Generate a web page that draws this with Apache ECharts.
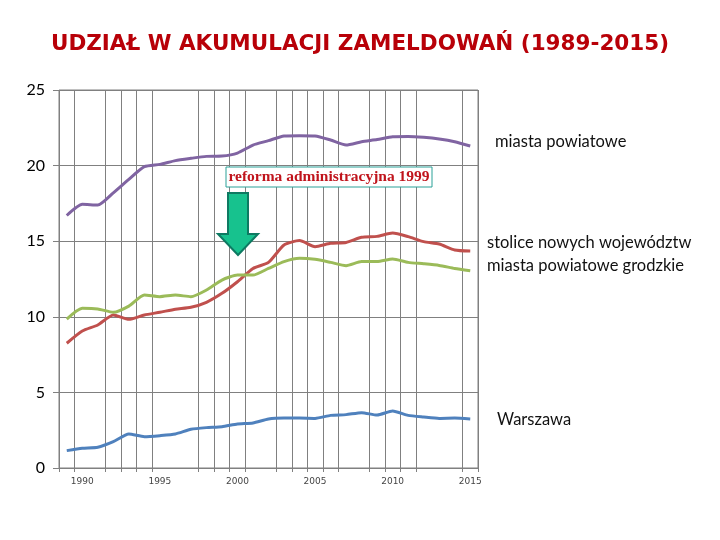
<!DOCTYPE html>
<html>
<head>
<meta charset="utf-8">
<script src="https://cdn.jsdelivr.net/npm/echarts@6/dist/echarts.min.js"></script>
<style>
  html, body { margin: 0; padding: 0; background: #fff; }
  #chart { width: 720px; height: 540px; }
</style>
</head>
<body>
<div id="chart"></div>
<script>
  // lata 1989-2015
  var years = [];
  for (var y = 1989; y <= 2015; y++) years.push(String(y));

  var miastaPowiatowe = [16.7, 17.44, 17.39, 18.2, 19.09, 19.93, 20.08, 20.33, 20.48, 20.61, 20.63, 20.83, 21.36, 21.65,
    21.96, 21.98, 21.96, 21.69, 21.36, 21.58, 21.72, 21.91, 21.93, 21.87, 21.76, 21.58, 21.3];
  var stoliceWojewodztw = [8.25, 9.06, 9.46, 10.12, 9.83, 10.12, 10.3, 10.5, 10.63, 10.96, 11.55, 12.32, 13.2, 13.6,
    14.75, 15.04, 14.64, 14.86, 14.92, 15.26, 15.32, 15.54, 15.3, 14.97, 14.81, 14.42, 14.35];
  var miastaGrodzkie = [9.85, 10.56, 10.52, 10.3, 10.71, 11.44, 11.33, 11.44, 11.33, 11.77, 12.43, 12.76, 12.76, 13.2,
    13.65, 13.87, 13.8, 13.6, 13.38, 13.65, 13.65, 13.82, 13.6, 13.51, 13.4, 13.2, 13.05];
  var warszawa = [1.15, 1.3, 1.37, 1.74, 2.25, 2.07, 2.14, 2.25, 2.56, 2.67, 2.73, 2.91, 2.98, 3.24,
    3.3, 3.3, 3.28, 3.48, 3.53, 3.66, 3.5, 3.77, 3.48, 3.37, 3.28, 3.3, 3.24];

  var seriesNames = ['miasta powiatowe', 'stolice nowych województw', 'miasta powiatowe grodzkie', 'Warszawa'];
  var seriesColors = ['#8064A2', '#C0504D', '#9BBB59', '#4F81BD'];
  // pionowe linie siatki, których brak na oryginale
  var missingGrid = [2, 7, 8, 13, 19, 24, 25];

  var chart = echarts.init(document.getElementById('chart'));

  function line(name, data, color) {
    return {
      name: name,
      type: 'line',
      data: data,
      symbol: 'none',
      smooth: 0.2,
      lineStyle: { color: color, width: 3 },
      itemStyle: { color: color },
      animation: false
    };
  }

  var option = {
    backgroundColor: '#fff',
    title: {
      text: 'UDZIAŁ W AKUMULACJI ZAMELDOWAŃ (1989-2015)',
      left: 'center',
      top: 28,
      textStyle: {
        color: '#B80008',
        fontFamily: 'DejaVu Sans',
        fontWeight: 'bold',
        fontSize: 21.5
      }
    },
    grid: {
      left: 59,
      top: 90,
      width: 419,
      height: 378,
      show: true,
      borderColor: '#808080',
      borderWidth: 1
    },
    xAxis: {
      type: 'category',
      data: years,
      boundaryGap: true,
      axisLine: { show: false },
      axisTick: {
        show: true,
        length: 4,
        lineStyle: { color: '#808080' },
        interval: function (idx) { return missingGrid.indexOf(idx) < 0; }
      },
      axisLabel: {
        interval: function (idx, val) { return Number(val) % 5 === 0; },
        fontSize: 9,
        color: '#444',
        fontFamily: 'DejaVu Sans',
        margin: 9
      },
      splitLine: {
        show: true,
        interval: function (idx) { return missingGrid.indexOf(idx) < 0; },
        lineStyle: { color: '#808080', width: 1 }
      }
    },
    yAxis: {
      type: 'value',
      min: 0,
      max: 25,
      interval: 5,
      axisLine: { show: false },
      axisTick: { show: true, length: 6, lineStyle: { color: '#808080' } },
      axisLabel: {
        fontSize: 16,
        color: '#000',
        fontFamily: 'Lato',
        margin: 14
      },
      splitLine: { lineStyle: { color: '#808080', width: 1 } }
    },
    series: [
      line(seriesNames[0], miastaPowiatowe, seriesColors[0]),
      line(seriesNames[1], stoliceWojewodztw, seriesColors[1]),
      line(seriesNames[2], miastaGrodzkie, seriesColors[2]),
      line(seriesNames[3], warszawa, seriesColors[3])
    ],
    graphic: [
      // podpisy serii po prawej
      { type: 'text', left: 495, top: 133, style: { text: seriesNames[0], font: '16.5px Lato', fill: '#111' } },
      { type: 'text', left: 487, top: 234, style: { text: seriesNames[1], font: '16.5px Lato', fill: '#111' } },
      { type: 'text', left: 487, top: 257, style: { text: seriesNames[2], font: '16.5px Lato', fill: '#111' } },
      { type: 'text', left: 497, top: 411, style: { text: seriesNames[3], font: '16.5px Lato', fill: '#111' } },
      // adnotacja reformy
      {
        type: 'rect',
        shape: { x: 226, y: 167, width: 206, height: 20 },
        style: { fill: '#fff', stroke: '#2AA198', lineWidth: 1 },
        z: 10
      },
      {
        type: 'text',
        x: 329, y: 177,
        style: {
          text: 'reforma administracyjna 1999',
          font: 'bold 15.5px "Liberation Serif"',
          fill: '#C0141C',
          align: 'center',
          verticalAlign: 'middle'
        },
        z: 11
      },
      {
        type: 'polygon',
        shape: {
          points: [[228, 193], [248, 193], [248, 234], [258, 234], [238, 255], [218, 234], [228, 234]]
        },
        style: { fill: '#17C28E', stroke: '#0E7A62', lineWidth: 2 },
        z: 10
      }
    ]
  };

  chart.setOption(option);
</script>
</body>
</html>
